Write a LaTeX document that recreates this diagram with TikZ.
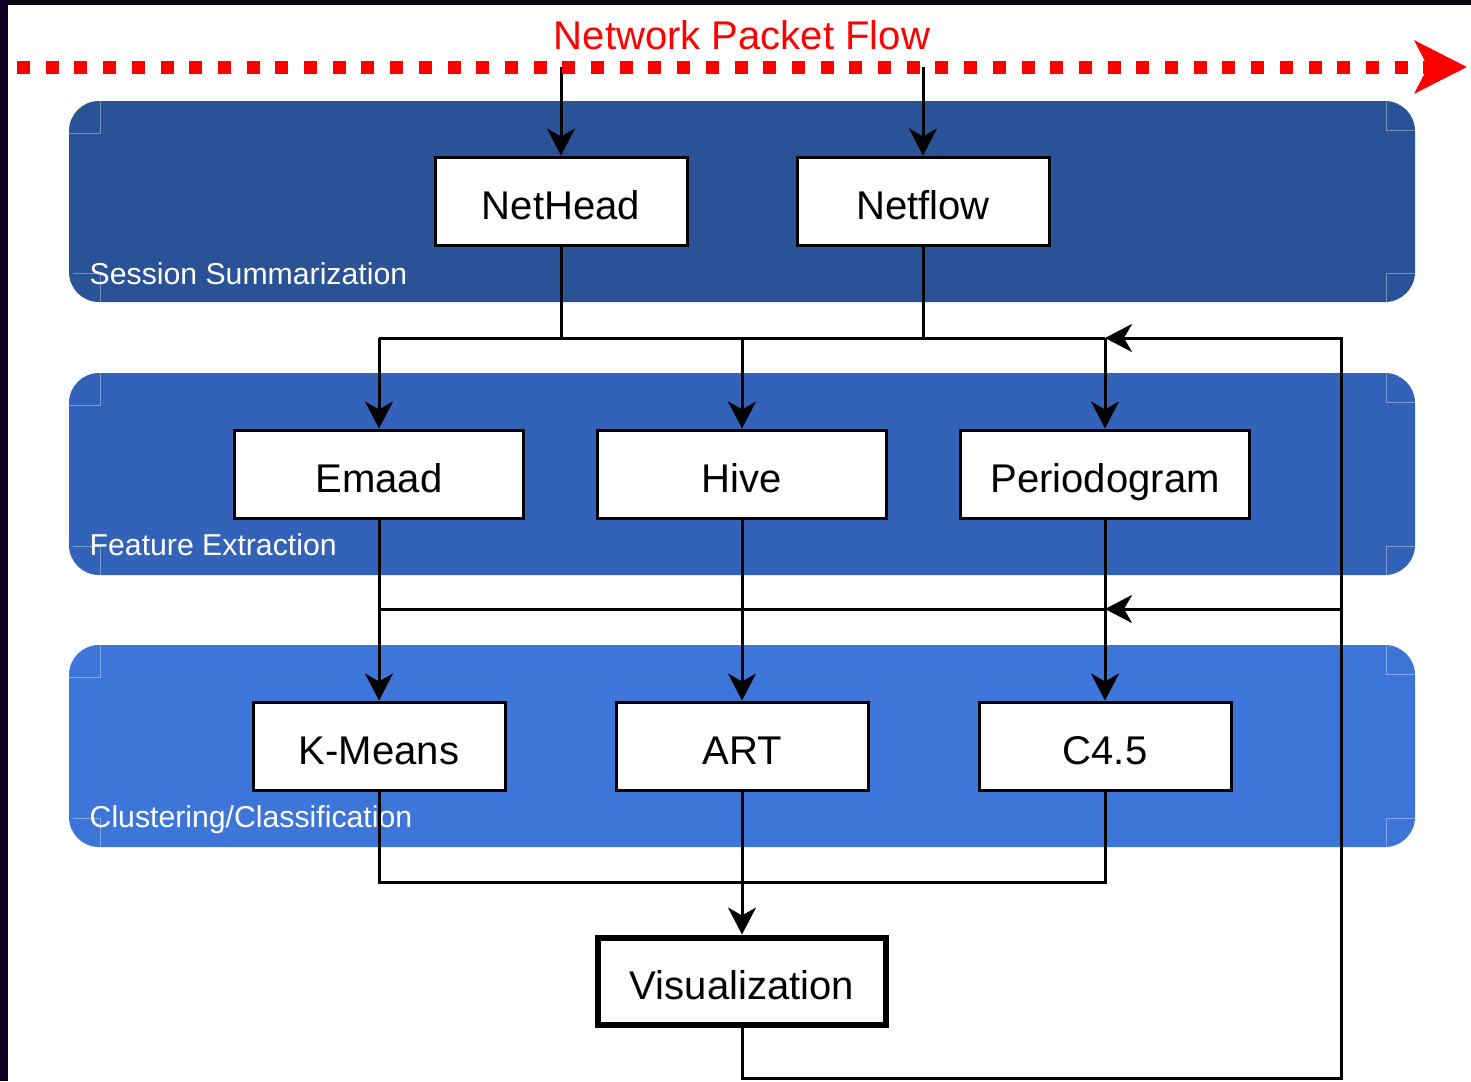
\documentclass[tikz,border=0pt]{standalone}
\usepackage{fontspec}
\setmainfont{Liberation Sans}
\usetikzlibrary{arrows.meta,positioning}
\definecolor{laneA}{RGB}{42,82,151}
\definecolor{laneB}{RGB}{51,99,184}
\definecolor{laneC}{RGB}{61,118,216}
\definecolor{frameA}{RGB}{5,7,13}
\definecolor{frameB}{RGB}{10,0,32}

\begin{document}
\begin{tikzpicture}[x=0.1mm,y=-0.1mm]
\tikzstyle{every node}=[font=\fontsize{11.4}{13.5}\selectfont]
\tikzstyle{lane}=[rounded corners=3mm]
\tikzstyle{lanetick}=[line width=0.1mm]
\tikzstyle{lanelabel}=[anchor=west, text=white, inner sep=0pt, font=\fontsize{8.6}{10}\selectfont]
\tikzstyle{blk}=[draw, fill=white, line width=0.3mm, minimum height=8.8mm, inner sep=0pt, text height=3.7mm, text depth=0mm]
\tikzstyle{wire}=[line width=0.3mm]
\tikzstyle{flow}=[wire, -{Stealth[length=2.7mm,width=2.8mm,inset=0.8mm]}]
\useasboundingbox (0,0) rectangle (1471,1081);
\fill[white] (0,0) rectangle (1471,1081);
\fill[frameA] (0,0) rectangle (1471,5);
\fill[frameB] (0,0) rectangle (8,1081);

\fill[laneA,lane] (69,101) rectangle (1415,302);
\fill[laneB,lane] (69,373) rectangle (1415,575);
\fill[laneC,lane] (69,645) rectangle (1415,847);
\draw[lanetick,laneA!65!white] (100,101) -- (100,133) -- (69,133) (1386,101) -- (1386,130) -- (1415,130)
  (73,273) -- (100,273) -- (100,302) (1415,273) -- (1386,273) -- (1386,302);
\draw[lanetick,laneB!65!white] (100,373) -- (100,405) -- (69,405) (1386,373) -- (1386,402) -- (1415,402)
  (73,546) -- (100,546) -- (100,575) (1415,546) -- (1386,546) -- (1386,575);
\draw[lanetick,laneC!65!white] (100,645) -- (100,677) -- (69,677) (1386,645) -- (1386,674) -- (1415,674)
  (73,818) -- (100,818) -- (100,847) (1415,818) -- (1386,818) -- (1386,847);

\node[lanelabel] (lblSession) at (89,274) {Session Summarization};
\node[lanelabel] (lblFeature) at (89,545) {Feature Extraction};
\node[lanelabel] (lblCluster) at (89,820) {Clustering/Classification};

\node[blk, minimum width=25.2mm] (nethead) at (561,201) {NetHead};
\node[blk, minimum width=25.2mm] (netflow) at (923,201) {Netflow};
\node[blk, minimum width=28.9mm] (emaad) at (379,474) {Emaad};
\node[blk, minimum width=28.9mm] (hive) at (742,474) {Hive};
\node[blk, minimum width=28.9mm] (periodogram) at (1105,474) {Periodogram};
\node[blk, minimum width=25.2mm] (kmeans) at (379,746) {K-Means};
\node[blk, minimum width=25.2mm] (art) at (742,746) {ART};
\node[blk, minimum width=25.2mm] (cfour) at (1105,746) {C4.5};
\node[blk, minimum width=28.8mm, minimum height=8.7mm, line width=0.6mm] (visual) at (742,981) {Visualization};

\node[text=red] (title) at (742,35) {Network Packet Flow};
\coordinate (flowL) at (17,67);
\coordinate (flowR) at (1467,67);
\coordinate (busA) at (379,338);
\coordinate (busB) at (379,609);
\coordinate (busC) at (379,882);
\coordinate (loopB) at (1341,1078);
\coordinate (loopT) at (1341,338);
\coordinate (loopM) at (1341,609);

\draw[flow] (nethead |- flowL) -- (nethead);
\draw[flow] (netflow |- flowL) -- (netflow);
\draw[wire] (nethead) -- (nethead |- busA);
\draw[wire] (netflow) -- (netflow |- busA);
\draw[wire] (busA) -- (periodogram |- busA);
\draw[flow] (busA) -- (emaad);
\draw[flow] (hive |- busA) -- (hive);
\draw[flow] (periodogram |- busA) -- (periodogram);
\draw[flow] (emaad) -- (kmeans);
\draw[flow] (hive) -- (art);
\draw[flow] (periodogram) -- (cfour);
\draw[wire] (busB) -- (periodogram |- busB);
\draw[wire] (kmeans) |- (cfour |- busC) -- (cfour);
\draw[flow] (art) -- (visual);
\draw[flow] (visual) |- (loopB) -- (loopT) -- (periodogram |- loopT);
\draw[flow] (loopM) -- (periodogram |- loopM);

\draw[red, line width=1.3mm, dash pattern=on 1.3mm off 1.57mm, -{Stealth[length=5.2mm,width=5.2mm,inset=1.3mm]}] (flowL) -- (flowR);

\end{tikzpicture}
\end{document}
